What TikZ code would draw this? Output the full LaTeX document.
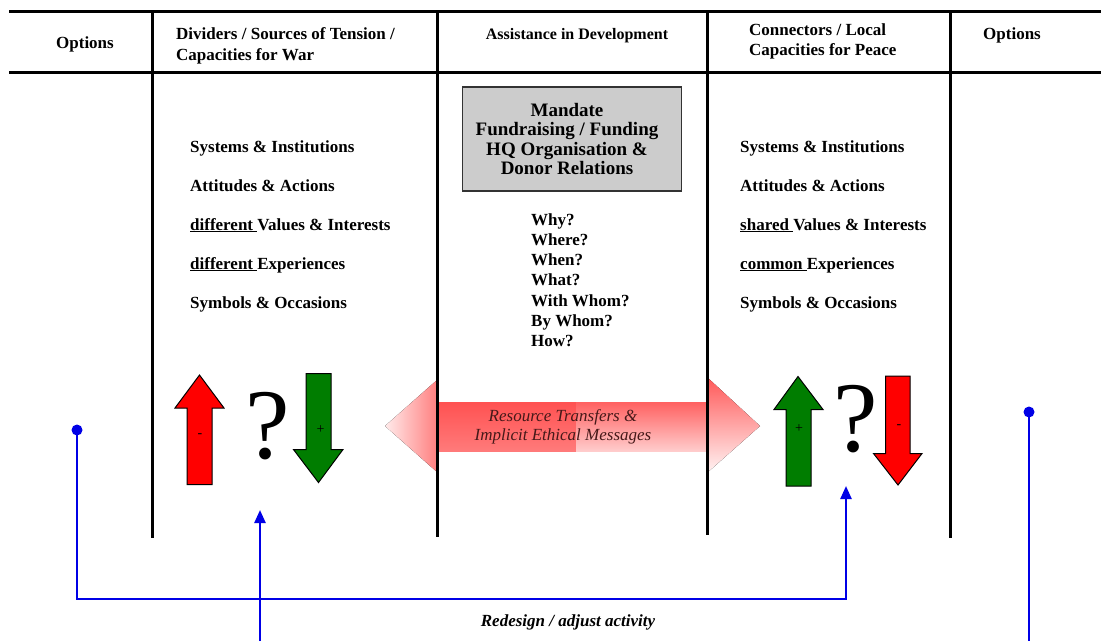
\documentclass[tikz,border=0pt]{standalone}
\usepackage{fontspec}
\setmainfont{Liberation Serif}
\usetikzlibrary{arrows.meta}
\definecolor{myblue}{RGB}{0,0,230}
\definecolor{arrred}{RGB}{255,0,0}
\definecolor{arrgreen}{RGB}{0,125,0}
\definecolor{boxgray}{RGB}{204,204,204}
\definecolor{msgtext}{RGB}{70,25,25}
\begin{document}
\begin{tikzpicture}[x=1pt,y=-1pt,
 rule/.style={line width=3pt,black},
 hdr/.style={font=\fontsize{17}{21}\selectfont\bfseries,inner sep=0,anchor=base west},
 hdrc/.style={font=\fontsize{17}{21}\selectfont\bfseries,inner sep=0,anchor=base},
 item/.style={font=\fontsize{17}{20}\selectfont\bfseries,inner sep=0,anchor=base west},
 boxtxt/.style={font=\fontsize{19}{20}\selectfont\bfseries,inner sep=0,anchor=base},
 qmark/.style={font=\fontsize{100}{100}\selectfont,inner sep=0,anchor=base},
 sign/.style={font=\fontsize{14}{14}\selectfont,inner sep=0},
 fat/.style={draw=black,line width=1pt,line join=miter},
 msg/.style={font=\fontsize{17}{18}\selectfont\itshape,text=msgtext,inner sep=0,anchor=base},
 link/.style={draw=myblue,line width=2.4pt},
 dot/.style={circle,fill=myblue,inner sep=0,minimum size=11pt},
 tip/.style={-{Triangle[width=11pt,length=13pt]}},
]
\useasboundingbox (0,0) rectangle (1104,641);
\fill[white] (0,0) rectangle (1104,641);

% resource transfer double arrow
\fill[left color=red!8!white, right color=red!50!white] (385,426) -- (437,380) -- (437,472) -- cycle;
\fill[top color=red!68!white, bottom color=red!52!white] (437,402) rectangle (576,451);
\fill[top color=red!62!white, bottom color=red!20!white] (576,402) rectangle (708,451);
\fill[top color=red!65!white, bottom color=red!5!white] (708,378) -- (760,426) -- (708,472) -- cycle;
\node[msg] (m1) at (563,421) {Resource Transfers \&};
\node[msg] (m2) at (563,440) {Implicit Ethical Messages};

% grid
\draw[rule] (9,11) -- (1101,11);
\draw[rule] (9,72) -- (1101,72);
\draw[rule] (152,11) -- (152,538);
\draw[rule] (437,11) -- (437,537);
\draw[rule] (707.5,11) -- (707.5,535);
\draw[rule] (950.5,11) -- (950.5,538);

% headers
\node[hdrc] (h1) at (85,48) {Options};
\node[hdr] (h2a) at (176,39) {Dividers / Sources of Tension /};
\node[hdr] (h2b) at (176,60) {Capacities for War};
\node[hdrc,font=\fontsize{16}{20}\selectfont\bfseries] (h3) at (577,39) {Assistance in Development};
\node[hdr] (h4a) at (749,35) {Connectors / Local};
\node[hdr] (h4b) at (749,55) {Capacities for Peace};
\node[hdrc] (h5) at (1012,39) {Options};

% left column
\node[item] (l1) at (190,152) {Systems \& Institutions};
\node[item] (l2) at (190,191) {Attitudes \& Actions};
\node[item] (l3) at (190,230) {\underline{different\ }Values \& Interests};
\node[item] (l4) at (190,269) {\underline{different\ }Experiences};
\node[item] (l5) at (190,308) {Symbols \& Occasions};

% right column
\node[item] (r1) at (740,152) {Systems \& Institutions};
\node[item] (r2) at (740,191) {Attitudes \& Actions};
\node[item] (r3) at (740,230) {\underline{shared\ }Values \& Interests};
\node[item] (r4) at (740,269) {\underline{common\ }Experiences};
\node[item] (r5) at (740,308) {Symbols \& Occasions};

% gray box
\filldraw[fill=boxgray,draw=black!80,line width=1.3pt] (462.5,87) rectangle (681.5,191);
\node[boxtxt] (b1) at (567,116) {Mandate};
\node[boxtxt] (b2) at (567,135.5) {Fundraising / Funding};
\node[boxtxt] (b3) at (567,155) {HQ Organisation \&};
\node[boxtxt] (b4) at (567,174.5) {Donor Relations};

% questions
\node[item] (q1) at (531,225) {Why?};
\node[item] (q2) at (531,245.3) {Where?};
\node[item] (q3) at (531,265.6) {When?};
\node[item] (q4) at (531,285.9) {What?};
\node[item] (q5) at (531,306.2) {With Whom?};
\node[item] (q6) at (531,326.5) {By Whom?};
\node[item] (q7) at (531,346.8) {How?};

% fat arrows left
\filldraw[fat,fill=arrred] (199.5,375) -- (224,408) -- (212,408) -- (212,484.5) -- (187,484.5) -- (187,408) -- (175,408) -- cycle;
\filldraw[fat,fill=arrgreen] (306,373.5) -- (331,373.5) -- (331,449.5) -- (343,449.5) -- (318.5,482.5) -- (293.5,449.5) -- (306,449.5) -- cycle;
\node[sign] (s1) at (200,436) {-};
\node[sign] (s2) at (320.5,430) {+};
\node[qmark] (lq) at (268,458) {?};

% fat arrows right
\filldraw[fat,fill=arrgreen] (798,376.5) -- (823,409.5) -- (811,409.5) -- (811,486) -- (786,486) -- (786,409.5) -- (774,409.5) -- cycle;
\filldraw[fat,fill=arrred] (885.5,376) -- (910,376) -- (910,453.5) -- (922,453.5) -- (898,485) -- (873.5,453.5) -- (885.5,453.5) -- cycle;
\node[sign] (s3) at (799,429) {+};
\node[sign] (s4) at (899,427) {-};
\node[qmark] (rq) at (856,451) {?};

% feedback links
\node[dot] (ldot) at (77,430) {};
\node[dot] (rdot) at (1029,412) {};
\coordinate (hl) at (0,599);
\coordinate (rtip) at (846,486);
\coordinate (ltip) at (260,510);
\coordinate (lbot) at (260,641);
\coordinate (rbot) at (1029,641);
\draw[link,tip] (ldot.center) -- (ldot.center |- hl) -| (rtip);
\draw[link,tip] (lbot) -- (ltip);
\draw[link] (rdot.center) -- (rbot);
\node[msg,font=\fontsize{17}{18}\selectfont\bfseries\itshape,text=black] (rd) at (568,626) {Redesign / adjust activity};
\end{tikzpicture}
\end{document}
